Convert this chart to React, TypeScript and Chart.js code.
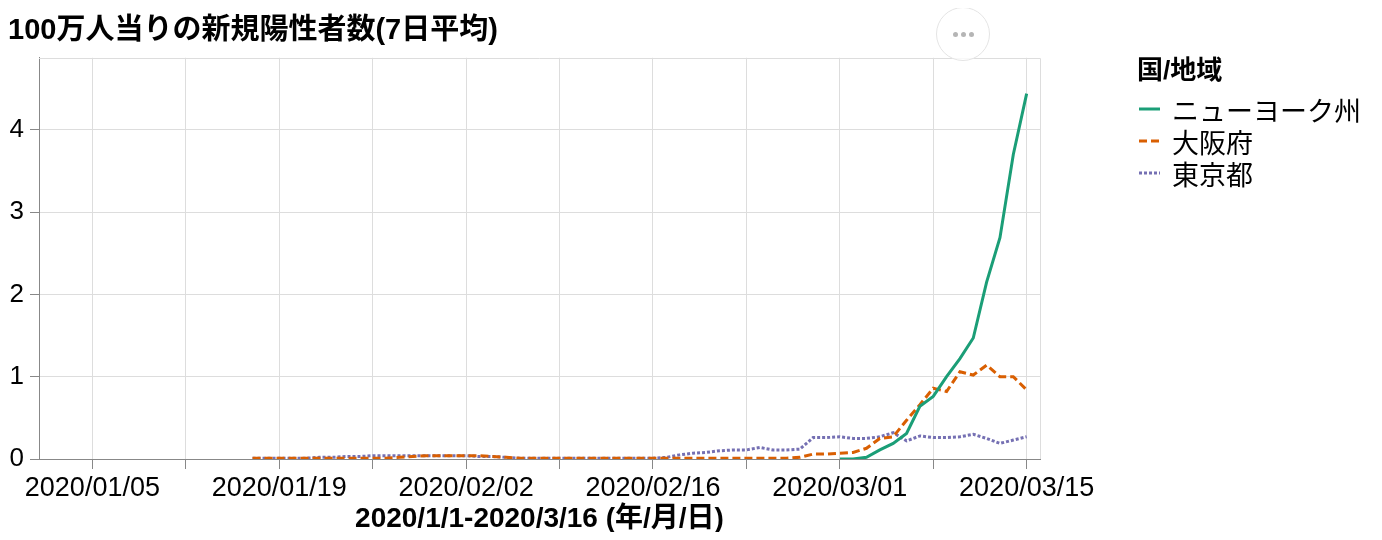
import React, { useEffect, useRef } from 'react';
import { Chart, registerables } from 'chart.js';

Chart.register(...registerables);

const TITLE = '100万人当りの新規陽性者数(7日平均)';
const X_TITLE = '2020/1/1-2020/3/16 (年/月/日)';
const LEGEND_TITLE = '国/地域';
const SERIES_NAMES = ['ニューヨーク州', '大阪府', '東京都'];
const SERIES_COLORS = ['#1b9e77', '#d95f02', '#7570b3'];
const SERIES_DASHES: number[][] = [[], [8, 4], [3, 2]];

const X_DOMAIN = ['2020/01/01', '2020/03/16'];
const X_TICK_DATES = [
  '2020/01/05', '2020/01/12', '2020/01/19', '2020/01/26', '2020/02/02', '2020/02/09',
  '2020/02/16', '2020/02/23', '2020/03/01', '2020/03/08', '2020/03/15',
];
const X_LABEL_DATES = ['2020/01/05', '2020/01/19', '2020/02/02', '2020/02/16', '2020/03/01', '2020/03/15'];
const Y_TICKS = [0, 1, 2, 3, 4];
const Y_MAX = 4.875;

const JP_DATES = [
  '2020/01/17', '2020/01/18', '2020/01/19', '2020/01/20', '2020/01/21', '2020/01/22', '2020/01/23',
  '2020/01/24', '2020/01/25', '2020/01/26', '2020/01/27', '2020/01/28', '2020/01/29', '2020/01/30',
  '2020/01/31', '2020/02/01', '2020/02/02', '2020/02/03', '2020/02/04', '2020/02/05', '2020/02/06',
  '2020/02/07', '2020/02/08', '2020/02/09', '2020/02/10', '2020/02/11', '2020/02/12', '2020/02/13',
  '2020/02/14', '2020/02/15', '2020/02/16', '2020/02/17', '2020/02/18', '2020/02/19', '2020/02/20',
  '2020/02/21', '2020/02/22', '2020/02/23', '2020/02/24', '2020/02/25', '2020/02/26', '2020/02/27',
  '2020/02/28', '2020/02/29', '2020/03/01', '2020/03/02', '2020/03/03', '2020/03/04', '2020/03/05',
  '2020/03/06', '2020/03/07', '2020/03/08', '2020/03/09', '2020/03/10', '2020/03/11', '2020/03/12',
  '2020/03/13', '2020/03/14', '2020/03/15',
];

const TOKYO = [
  0.01, 0.01, 0.01, 0.01, 0.01, 0.02, 0.02,
  0.03, 0.03, 0.04, 0.04, 0.04, 0.04, 0.04,
  0.04, 0.04, 0.04, 0.03, 0.03, 0.02, 0.01,
  0.01, 0.01, 0.01, 0.01, 0.01, 0.01, 0.01,
  0.01, 0.01, 0.01, 0.02, 0.05, 0.07, 0.08,
  0.10, 0.11, 0.11, 0.14, 0.11, 0.11, 0.12,
  0.26, 0.26, 0.27, 0.25, 0.25, 0.27, 0.32,
  0.22, 0.28, 0.26, 0.26, 0.27, 0.30, 0.25,
  0.19, 0.23, 0.27,
];

const OSAKA = [
  0.01, 0.01, 0.01, 0.01, 0.01, 0.01, 0.01,
  0.01, 0.01, 0.01, 0.01, 0.02, 0.03, 0.04,
  0.04, 0.04, 0.04, 0.04, 0.03, 0.02, 0.01,
  0.01, 0.01, 0.01, 0.01, 0.01, 0.01, 0.01,
  0.01, 0.01, 0.01, 0.01, 0.01, 0.01, 0.01,
  0.01, 0.01, 0.01, 0.01, 0.01, 0.01, 0.02,
  0.06, 0.06, 0.07, 0.08, 0.13, 0.25, 0.27,
  0.47, 0.66, 0.86, 0.82, 1.06, 1.02, 1.14,
  1.00, 1.00, 0.84,
];

const NY_DATES = [
  '2020/03/01', '2020/03/02', '2020/03/03', '2020/03/04', '2020/03/05', '2020/03/06', '2020/03/07',
  '2020/03/08', '2020/03/09', '2020/03/10', '2020/03/11', '2020/03/12', '2020/03/13', '2020/03/14',
  '2020/03/15',
];
const NEW_YORK = [0.0, 0.0, 0.02, 0.11, 0.19, 0.31, 0.64, 0.76, 1.0, 1.22, 1.47, 2.15, 2.69, 3.7, 4.44];

const BASE = Date.UTC(2020, 0, 1);
function dayIndex(s: string): number {
  const [y, m, d] = s.split('/').map(Number);
  return (Date.UTC(y, m - 1, d) - BASE) / 86400000;
}

const LABEL_MAP: Record<number, string> = {};
X_LABEL_DATES.forEach((d) => {
  LABEL_MAP[dayIndex(d)] = d;
});

const FONT = '"Liberation Sans", Arial, "Noto Sans CJK JP", sans-serif';

const borderPlugin = {
  id: 'plotBorder',
  beforeDatasetsDraw(chart: any) {
    const { ctx, chartArea } = chart;
    const { left, right, top, bottom } = chartArea;
    ctx.save();
    ctx.strokeStyle = '#dddddd';
    ctx.lineWidth = 1;
    ctx.beginPath();
    ctx.moveTo(Math.round(left), Math.round(top) + 0.5);
    ctx.lineTo(Math.round(right) + 0.5, Math.round(top) + 0.5);
    ctx.lineTo(Math.round(right) + 0.5, Math.round(bottom));
    ctx.stroke();
    ctx.restore();
  },
};

export default function App() {
  const ref = useRef<HTMLCanvasElement | null>(null);

  useEffect(() => {
    if (!ref.current) return;
    const seriesData = [
      NY_DATES.map((d, i) => ({ x: dayIndex(d), y: NEW_YORK[i] })),
      JP_DATES.map((d, i) => ({ x: dayIndex(d), y: OSAKA[i] })),
      JP_DATES.map((d, i) => ({ x: dayIndex(d), y: TOKYO[i] })),
    ];
    const chart = new Chart(ref.current, {
      type: 'line',
      data: {
        datasets: SERIES_NAMES.map((name, i) => ({
          label: name,
          data: seriesData[i],
          borderColor: SERIES_COLORS[i],
          backgroundColor: SERIES_COLORS[i],
          borderWidth: 3,
          borderDash: SERIES_DASHES[i],
          pointRadius: 0,
          tension: 0,
          fill: false,
        })),
      },
      plugins: [borderPlugin],
      options: {
        animation: false,
        responsive: false,
        devicePixelRatio: 1,
        layout: { padding: { left: 0, right: 334, top: 0, bottom: 0 } },
        plugins: {
          legend: { display: false },
          tooltip: { enabled: false },
          title: {
            display: true,
            text: TITLE,
            align: 'start',
            color: '#000',
            font: { family: FONT, size: 29, weight: 'bold', lineHeight: 1.2 },
            padding: { top: 6, bottom: 9 },
          },
        },
        scales: {
          x: {
            type: 'linear',
            min: dayIndex(X_DOMAIN[0]),
            max: dayIndex(X_DOMAIN[1]),
            afterBuildTicks: (scale: any) => {
              scale.ticks = X_TICK_DATES.map((d) => ({ value: dayIndex(d) }));
            },
            afterFit: (scale: any) => {
              scale.height = 73;
              scale.paddingLeft = 0;
              scale.paddingRight = 0;
            },
            ticks: {
              autoSkip: false,
              maxRotation: 0,
              color: '#000',
              padding: 3,
              font: { family: FONT, size: 27 },
              callback: (v: any) => LABEL_MAP[Number(v)] ?? '',
            },
            grid: { color: '#dddddd', tickColor: '#888888', tickLength: 10, lineWidth: 1 },
            border: { color: '#888888', width: 1 },
            title: {
              display: true,
              text: X_TITLE,
              color: '#000',
              font: { family: FONT, size: 28, weight: 'bold', lineHeight: 0.9 },
              padding: { top: 0, bottom: 0 },
            },
          },
          y: {
            type: 'linear',
            min: 0,
            max: Y_MAX,
            afterBuildTicks: (scale: any) => {
              scale.ticks = Y_TICKS.map((v) => ({ value: v }));
            },
            afterFit: (scale: any) => {
              scale.width = 31;
            },
            ticks: {
              color: '#000',
              padding: 6,
              font: { family: FONT, size: 26 },
            },
            grid: { color: '#dddddd', tickColor: '#888888', tickLength: 9, lineWidth: 1 },
            border: { color: '#888888', width: 1 },
          },
        },
      },
    });
    return () => chart.destroy();
  }, []);

  return (
    <div style={{ position: 'relative', width: 1366, height: 524 }}>
      <canvas ref={ref} width={1366} height={524} style={{ display: 'block' }} />
      <div
        style={{
          position: 'absolute',
          left: 928,
          top: -1,
          width: 52,
          height: 52,
          borderRadius: '50%',
          border: '1px solid #e4e4e4',
          display: 'flex',
          alignItems: 'center',
          justifyContent: 'center',
          gap: 3,
          background: 'rgba(255,255,255,0.8)',
        }}
      >
        {[0, 1, 2].map((k) => (
          <span key={k} style={{ width: 5, height: 5, borderRadius: '50%', background: '#b5b5b5', display: 'block' }} />
        ))}
      </div>
      <div
        style={{
          position: 'absolute',
          left: 1129,
          top: 47,
          font: `bold 26px ${FONT}`,
          lineHeight: '30px',
          color: '#000',
          whiteSpace: 'nowrap',
        }}
      >
        {LEGEND_TITLE}
      </div>
      {SERIES_NAMES.map((name, i) => (
        <div
          key={name}
          style={{
            position: 'absolute',
            left: 1131,
            top: 85 + i * 32,
            height: 32,
            display: 'flex',
            alignItems: 'center',
            font: `27px ${FONT}`,
            color: '#000',
            whiteSpace: 'nowrap',
          }}
        >
          <svg width={21} height={4} style={{ display: 'block', marginRight: 12 }}>
            <line
              x1={0}
              y1={2}
              x2={21}
              y2={2}
              stroke={SERIES_COLORS[i]}
              strokeWidth={3}
              strokeDasharray={SERIES_DASHES[i].length ? SERIES_DASHES[i].join(',') : undefined}
            />
          </svg>
          <span>{name}</span>
        </div>
      ))}
    </div>
  );
}
